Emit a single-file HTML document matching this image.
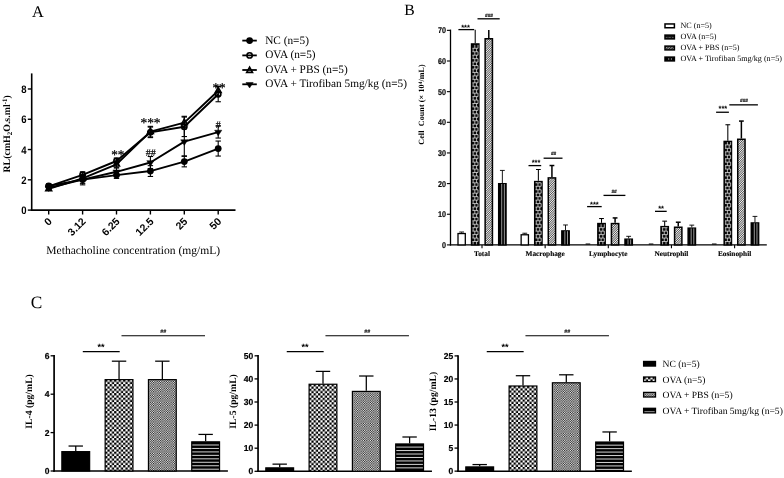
<!DOCTYPE html>
<html lang="en">
<head>
<meta charset="utf-8">
<title>Figure</title>
<style>
html,body{margin:0;padding:0;background:#fff;}
body{width:784px;height:478px;overflow:hidden;}
svg{display:block;}
text{fill:#000;text-rendering:geometricPrecision;}
</style>
</head>
<body>
<svg width="784" height="478" viewBox="0 0 784 478">
<rect width="784" height="478" fill="#fff"/>
<defs>
<pattern id="brick" width="3.45" height="7" patternUnits="userSpaceOnUse" x="0.25" y="0">
<rect width="3.45" height="7" fill="#0a0a0a"/>
<rect x="0" y="0" width="3.45" height="1" fill="#d4d4d4"/>
<rect x="0" y="3.5" width="3.45" height="0.9" fill="#d4d4d4"/>
<rect x="0.2" y="1" width="0.85" height="2.5" fill="#cfcfcf"/>
<rect x="1.95" y="4.4" width="0.85" height="2.6" fill="#cfcfcf"/>
</pattern>
<pattern id="brickL" width="3.5" height="3" patternUnits="userSpaceOnUse">
<rect width="3.5" height="3" fill="#111"/>
<rect x="0" y="1.1" width="2.4" height="0.7" fill="#777"/>
</pattern>
<pattern id="diag" width="1.6" height="1.6" patternUnits="userSpaceOnUse" patternTransform="rotate(-45)">
<rect width="1.6" height="1.6" fill="#f6f6f6"/>
<rect width="1.6" height="0.72" fill="#3c3c3c"/>
</pattern>
<pattern id="diagL" width="1.9" height="1.9" patternUnits="userSpaceOnUse" patternTransform="rotate(-45)">
<rect width="1.9" height="1.9" fill="#999"/>
<rect width="1.9" height="0.95" fill="#222"/>
</pattern>
<pattern id="check" width="4" height="4" patternUnits="userSpaceOnUse" x="1" y="3">
<rect width="4" height="4" fill="#fff"/>
<rect x="0" y="0" width="2" height="2" fill="#000"/>
<rect x="2" y="2" width="2" height="2" fill="#000"/>
</pattern>
<pattern id="check2" width="2" height="2" patternUnits="userSpaceOnUse">
<rect width="2" height="2" fill="#c8c8c8"/>
<rect x="0" y="0" width="1" height="1" fill="#484848"/>
<rect x="1" y="1" width="1" height="1" fill="#484848"/>
</pattern>
<pattern id="hstripe" width="4" height="3.46" patternUnits="userSpaceOnUse" y="1.82">
<rect width="4" height="3.46" fill="#000"/>
<rect x="0" y="0" width="4" height="1.0" fill="#e6e6e6"/>
</pattern>
</defs>
<text x="31.90" y="17.25" font-family="'Liberation Serif', serif" font-size="16.3" font-weight="normal" text-anchor="start" >A</text>
<text x="404.20" y="15.10" font-family="'Liberation Serif', serif" font-size="15.7" font-weight="normal" text-anchor="start" >B</text>
<text x="30.70" y="308.40" font-family="'Liberation Serif', serif" font-size="17.3" font-weight="normal" text-anchor="start" >C</text>
<line x1="31.70" y1="73.40" x2="31.70" y2="210.90" stroke="#000" stroke-width="1.6" />
<line x1="30.90" y1="210.10" x2="235.50" y2="210.10" stroke="#000" stroke-width="1.6" />
<line x1="27.80" y1="210.10" x2="31.70" y2="210.10" stroke="#000" stroke-width="1.4" />
<text transform="translate(26.60,214.20) scale(0.875,1)" font-family="'Liberation Sans', sans-serif" font-size="10.9" font-weight="bold" text-anchor="end" >0</text>
<line x1="27.80" y1="179.82" x2="31.70" y2="179.82" stroke="#000" stroke-width="1.4" />
<text transform="translate(26.60,183.92) scale(0.875,1)" font-family="'Liberation Sans', sans-serif" font-size="10.9" font-weight="bold" text-anchor="end" >2</text>
<line x1="27.80" y1="149.54" x2="31.70" y2="149.54" stroke="#000" stroke-width="1.4" />
<text transform="translate(26.60,153.64) scale(0.875,1)" font-family="'Liberation Sans', sans-serif" font-size="10.9" font-weight="bold" text-anchor="end" >4</text>
<line x1="27.80" y1="119.26" x2="31.70" y2="119.26" stroke="#000" stroke-width="1.4" />
<text transform="translate(26.60,123.36) scale(0.875,1)" font-family="'Liberation Sans', sans-serif" font-size="10.9" font-weight="bold" text-anchor="end" >6</text>
<line x1="27.80" y1="88.98" x2="31.70" y2="88.98" stroke="#000" stroke-width="1.4" />
<text transform="translate(26.60,93.08) scale(0.875,1)" font-family="'Liberation Sans', sans-serif" font-size="10.9" font-weight="bold" text-anchor="end" >8</text>
<line x1="48.70" y1="210.10" x2="48.70" y2="214.50" stroke="#000" stroke-width="1.4" />
<text transform="translate(52.60,222.00) rotate(-45)" font-family="'Liberation Sans', sans-serif" font-size="10.5" font-weight="bold" text-anchor="end">0</text>
<line x1="82.60" y1="210.10" x2="82.60" y2="214.50" stroke="#000" stroke-width="1.4" />
<text transform="translate(86.50,222.00) rotate(-45)" font-family="'Liberation Sans', sans-serif" font-size="10.5" font-weight="bold" text-anchor="end">3.12</text>
<line x1="116.50" y1="210.10" x2="116.50" y2="214.50" stroke="#000" stroke-width="1.4" />
<text transform="translate(120.40,222.00) rotate(-45)" font-family="'Liberation Sans', sans-serif" font-size="10.5" font-weight="bold" text-anchor="end">6.25</text>
<line x1="150.40" y1="210.10" x2="150.40" y2="214.50" stroke="#000" stroke-width="1.4" />
<text transform="translate(154.30,222.00) rotate(-45)" font-family="'Liberation Sans', sans-serif" font-size="10.5" font-weight="bold" text-anchor="end">12.5</text>
<line x1="184.30" y1="210.10" x2="184.30" y2="214.50" stroke="#000" stroke-width="1.4" />
<text transform="translate(188.20,222.00) rotate(-45)" font-family="'Liberation Sans', sans-serif" font-size="10.5" font-weight="bold" text-anchor="end">25</text>
<line x1="218.20" y1="210.10" x2="218.20" y2="214.50" stroke="#000" stroke-width="1.4" />
<text transform="translate(222.10,222.00) rotate(-45)" font-family="'Liberation Sans', sans-serif" font-size="10.5" font-weight="bold" text-anchor="end">50</text>
<text x="133.20" y="253.70" font-family="'Liberation Serif', serif" font-size="11.56" font-weight="normal" text-anchor="middle" >Methacholine concentration (mg/mL)</text>
<text transform="translate(10.3,133.9) rotate(-90)" font-family="'Liberation Serif', serif" font-size="9.9" font-weight="bold" text-anchor="middle">RL(cmH<tspan font-size="6.9" dy="2.1">2</tspan><tspan dy="-2.1">O.s.ml</tspan><tspan font-size="6.9" dy="-3.7">-1</tspan><tspan dy="3.7">)</tspan></text>
<line x1="48.70" y1="184.10" x2="48.70" y2="187.70" stroke="#000" stroke-width="1.1" />
<line x1="46.00" y1="184.10" x2="51.40" y2="184.10" stroke="#000" stroke-width="1.1" />
<line x1="46.00" y1="187.70" x2="51.40" y2="187.70" stroke="#000" stroke-width="1.1" />
<line x1="82.60" y1="174.35" x2="82.60" y2="184.85" stroke="#000" stroke-width="1.1" />
<line x1="79.90" y1="174.35" x2="85.30" y2="174.35" stroke="#000" stroke-width="1.1" />
<line x1="79.90" y1="184.85" x2="85.30" y2="184.85" stroke="#000" stroke-width="1.1" />
<line x1="116.50" y1="171.80" x2="116.50" y2="178.40" stroke="#000" stroke-width="1.1" />
<line x1="113.80" y1="171.80" x2="119.20" y2="171.80" stroke="#000" stroke-width="1.1" />
<line x1="113.80" y1="178.40" x2="119.20" y2="178.40" stroke="#000" stroke-width="1.1" />
<line x1="150.40" y1="165.65" x2="150.40" y2="176.45" stroke="#000" stroke-width="1.1" />
<line x1="147.70" y1="165.65" x2="153.10" y2="165.65" stroke="#000" stroke-width="1.1" />
<line x1="147.70" y1="176.45" x2="153.10" y2="176.45" stroke="#000" stroke-width="1.1" />
<line x1="184.30" y1="156.35" x2="184.30" y2="166.85" stroke="#000" stroke-width="1.1" />
<line x1="181.60" y1="156.35" x2="187.00" y2="156.35" stroke="#000" stroke-width="1.1" />
<line x1="181.60" y1="166.85" x2="187.00" y2="166.85" stroke="#000" stroke-width="1.1" />
<line x1="218.20" y1="141.05" x2="218.20" y2="156.05" stroke="#000" stroke-width="1.1" />
<line x1="215.50" y1="141.05" x2="220.90" y2="141.05" stroke="#000" stroke-width="1.1" />
<line x1="215.50" y1="156.05" x2="220.90" y2="156.05" stroke="#000" stroke-width="1.1" />
<polyline points="48.70,185.90 82.60,179.60 116.50,175.10 150.40,171.05 184.30,161.60 218.20,148.55" fill="none" stroke="#000" stroke-width="1.9" stroke-linejoin="round"/>
<circle cx="48.70" cy="185.90" r="3.40" fill="#000"/>
<circle cx="82.60" cy="179.60" r="3.40" fill="#000"/>
<circle cx="116.50" cy="175.10" r="3.40" fill="#000"/>
<circle cx="150.40" cy="171.05" r="3.40" fill="#000"/>
<circle cx="184.30" cy="161.60" r="3.40" fill="#000"/>
<circle cx="218.20" cy="148.55" r="3.40" fill="#000"/>
<line x1="48.70" y1="184.85" x2="48.70" y2="187.85" stroke="#000" stroke-width="1.1" />
<line x1="46.00" y1="184.85" x2="51.40" y2="184.85" stroke="#000" stroke-width="1.1" />
<line x1="46.00" y1="187.85" x2="51.40" y2="187.85" stroke="#000" stroke-width="1.1" />
<line x1="82.60" y1="171.80" x2="82.60" y2="177.80" stroke="#000" stroke-width="1.1" />
<line x1="79.90" y1="171.80" x2="85.30" y2="171.80" stroke="#000" stroke-width="1.1" />
<line x1="79.90" y1="177.80" x2="85.30" y2="177.80" stroke="#000" stroke-width="1.1" />
<line x1="116.50" y1="158.00" x2="116.50" y2="164.00" stroke="#000" stroke-width="1.1" />
<line x1="113.80" y1="158.00" x2="119.20" y2="158.00" stroke="#000" stroke-width="1.1" />
<line x1="113.80" y1="164.00" x2="119.20" y2="164.00" stroke="#000" stroke-width="1.1" />
<line x1="150.40" y1="127.10" x2="150.40" y2="137.60" stroke="#000" stroke-width="1.1" />
<line x1="147.70" y1="127.10" x2="153.10" y2="127.10" stroke="#000" stroke-width="1.1" />
<line x1="147.70" y1="137.60" x2="153.10" y2="137.60" stroke="#000" stroke-width="1.1" />
<line x1="184.30" y1="117.05" x2="184.30" y2="136.55" stroke="#000" stroke-width="1.1" />
<line x1="181.60" y1="117.05" x2="187.00" y2="117.05" stroke="#000" stroke-width="1.1" />
<line x1="181.60" y1="136.55" x2="187.00" y2="136.55" stroke="#000" stroke-width="1.1" />
<line x1="218.20" y1="86.75" x2="218.20" y2="101.75" stroke="#000" stroke-width="1.1" />
<line x1="215.50" y1="86.75" x2="220.90" y2="86.75" stroke="#000" stroke-width="1.1" />
<line x1="215.50" y1="101.75" x2="220.90" y2="101.75" stroke="#000" stroke-width="1.1" />
<polyline points="48.70,186.35 82.60,174.80 116.50,161.00 150.40,132.35 184.30,126.80 218.20,94.25" fill="none" stroke="#000" stroke-width="1.9" stroke-linejoin="round"/>
<circle cx="48.70" cy="186.35" r="2.65" fill="none" stroke="#000" stroke-width="1.6"/>
<circle cx="82.60" cy="174.80" r="2.65" fill="none" stroke="#000" stroke-width="1.6"/>
<circle cx="116.50" cy="161.00" r="2.65" fill="none" stroke="#000" stroke-width="1.6"/>
<circle cx="150.40" cy="132.35" r="2.65" fill="none" stroke="#000" stroke-width="1.6"/>
<circle cx="184.30" cy="126.80" r="2.65" fill="none" stroke="#000" stroke-width="1.6"/>
<circle cx="218.20" cy="94.25" r="2.65" fill="none" stroke="#000" stroke-width="1.6"/>
<line x1="48.70" y1="187.40" x2="48.70" y2="190.40" stroke="#000" stroke-width="1.1" />
<line x1="46.00" y1="187.40" x2="51.40" y2="187.40" stroke="#000" stroke-width="1.1" />
<line x1="46.00" y1="190.40" x2="51.40" y2="190.40" stroke="#000" stroke-width="1.1" />
<line x1="82.60" y1="175.40" x2="82.60" y2="181.40" stroke="#000" stroke-width="1.1" />
<line x1="79.90" y1="175.40" x2="85.30" y2="175.40" stroke="#000" stroke-width="1.1" />
<line x1="79.90" y1="181.40" x2="85.30" y2="181.40" stroke="#000" stroke-width="1.1" />
<line x1="116.50" y1="161.30" x2="116.50" y2="167.30" stroke="#000" stroke-width="1.1" />
<line x1="113.80" y1="161.30" x2="119.20" y2="161.30" stroke="#000" stroke-width="1.1" />
<line x1="113.80" y1="167.30" x2="119.20" y2="167.30" stroke="#000" stroke-width="1.1" />
<line x1="150.40" y1="126.35" x2="150.40" y2="136.85" stroke="#000" stroke-width="1.1" />
<line x1="147.70" y1="126.35" x2="153.10" y2="126.35" stroke="#000" stroke-width="1.1" />
<line x1="147.70" y1="136.85" x2="153.10" y2="136.85" stroke="#000" stroke-width="1.1" />
<line x1="184.30" y1="116.30" x2="184.30" y2="128.90" stroke="#000" stroke-width="1.1" />
<line x1="181.60" y1="116.30" x2="187.00" y2="116.30" stroke="#000" stroke-width="1.1" />
<line x1="181.60" y1="128.90" x2="187.00" y2="128.90" stroke="#000" stroke-width="1.1" />
<line x1="218.20" y1="86.30" x2="218.20" y2="95.30" stroke="#000" stroke-width="1.1" />
<line x1="215.50" y1="86.30" x2="220.90" y2="86.30" stroke="#000" stroke-width="1.1" />
<line x1="215.50" y1="95.30" x2="220.90" y2="95.30" stroke="#000" stroke-width="1.1" />
<polyline points="48.70,188.90 82.60,178.40 116.50,164.30 150.40,131.60 184.30,122.60 218.20,90.80" fill="none" stroke="#000" stroke-width="1.9" stroke-linejoin="round"/>
<polygon points="48.70,185.43 51.60,190.63 45.80,190.63" fill="none" stroke="#000" stroke-width="1.6" stroke-linejoin="miter"/>
<polygon points="82.60,174.93 85.50,180.13 79.70,180.13" fill="none" stroke="#000" stroke-width="1.6" stroke-linejoin="miter"/>
<polygon points="116.50,160.83 119.40,166.03 113.60,166.03" fill="none" stroke="#000" stroke-width="1.6" stroke-linejoin="miter"/>
<polygon points="150.40,128.13 153.30,133.33 147.50,133.33" fill="none" stroke="#000" stroke-width="1.6" stroke-linejoin="miter"/>
<polygon points="184.30,119.13 187.20,124.33 181.40,124.33" fill="none" stroke="#000" stroke-width="1.6" stroke-linejoin="miter"/>
<polygon points="218.20,87.33 221.10,92.53 215.30,92.53" fill="none" stroke="#000" stroke-width="1.6" stroke-linejoin="miter"/>
<line x1="48.70" y1="186.35" x2="48.70" y2="189.35" stroke="#000" stroke-width="1.1" />
<line x1="46.00" y1="186.35" x2="51.40" y2="186.35" stroke="#000" stroke-width="1.1" />
<line x1="46.00" y1="189.35" x2="51.40" y2="189.35" stroke="#000" stroke-width="1.1" />
<line x1="82.60" y1="175.85" x2="82.60" y2="183.35" stroke="#000" stroke-width="1.1" />
<line x1="79.90" y1="175.85" x2="85.30" y2="175.85" stroke="#000" stroke-width="1.1" />
<line x1="79.90" y1="183.35" x2="85.30" y2="183.35" stroke="#000" stroke-width="1.1" />
<line x1="116.50" y1="168.05" x2="116.50" y2="175.55" stroke="#000" stroke-width="1.1" />
<line x1="113.80" y1="168.05" x2="119.20" y2="168.05" stroke="#000" stroke-width="1.1" />
<line x1="113.80" y1="175.55" x2="119.20" y2="175.55" stroke="#000" stroke-width="1.1" />
<line x1="150.40" y1="156.50" x2="150.40" y2="168.50" stroke="#000" stroke-width="1.1" />
<line x1="147.70" y1="156.50" x2="153.10" y2="156.50" stroke="#000" stroke-width="1.1" />
<line x1="147.70" y1="168.50" x2="153.10" y2="168.50" stroke="#000" stroke-width="1.1" />
<line x1="184.30" y1="127.40" x2="184.30" y2="155.90" stroke="#000" stroke-width="1.1" />
<line x1="181.60" y1="127.40" x2="187.00" y2="127.40" stroke="#000" stroke-width="1.1" />
<line x1="181.60" y1="155.90" x2="187.00" y2="155.90" stroke="#000" stroke-width="1.1" />
<line x1="218.20" y1="126.05" x2="218.20" y2="138.05" stroke="#000" stroke-width="1.1" />
<line x1="215.50" y1="126.05" x2="220.90" y2="126.05" stroke="#000" stroke-width="1.1" />
<line x1="215.50" y1="138.05" x2="220.90" y2="138.05" stroke="#000" stroke-width="1.1" />
<polyline points="48.70,187.85 82.60,179.60 116.50,171.80 150.40,162.50 184.30,141.65 218.20,132.05" fill="none" stroke="#000" stroke-width="1.9" stroke-linejoin="round"/>
<polygon points="48.70,191.52 52.30,186.02 45.10,186.02" fill="#000" stroke="#000" stroke-width="0.5" stroke-linejoin="miter"/>
<polygon points="82.60,183.27 86.20,177.77 79.00,177.77" fill="#000" stroke="#000" stroke-width="0.5" stroke-linejoin="miter"/>
<polygon points="116.50,175.47 120.10,169.97 112.90,169.97" fill="#000" stroke="#000" stroke-width="0.5" stroke-linejoin="miter"/>
<polygon points="150.40,166.17 154.00,160.67 146.80,160.67" fill="#000" stroke="#000" stroke-width="0.5" stroke-linejoin="miter"/>
<polygon points="184.30,145.32 187.90,139.82 180.70,139.82" fill="#000" stroke="#000" stroke-width="0.5" stroke-linejoin="miter"/>
<polygon points="218.20,135.72 221.80,130.22 214.60,130.22" fill="#000" stroke="#000" stroke-width="0.5" stroke-linejoin="miter"/>
<text x="117.85" y="159.04" font-family="'Liberation Serif', serif" font-size="13.2" font-weight="normal" text-anchor="middle" stroke="#000" stroke-width="0.25">**</text>
<text x="150.50" y="127.13" font-family="'Liberation Serif', serif" font-size="13.4" font-weight="normal" text-anchor="middle" stroke="#000" stroke-width="0.25">***</text>
<text x="219.00" y="91.84" font-family="'Liberation Serif', serif" font-size="13.2" font-weight="normal" text-anchor="middle" stroke="#000" stroke-width="0.25">**</text>
<text x="150.75" y="156.25" font-family="'Liberation Serif', serif" font-size="10" font-weight="normal" text-anchor="middle" stroke="#000" stroke-width="0.2">##</text>
<text x="218.30" y="127.65" font-family="'Liberation Serif', serif" font-size="10" font-weight="normal" text-anchor="middle" stroke="#000" stroke-width="0.2">#</text>
<line x1="242.30" y1="40.60" x2="256.80" y2="40.60" stroke="#000" stroke-width="1.7999999999999998" />
<circle cx="249.60" cy="40.60" r="3.40" fill="#000"/>
<text x="265.20" y="43.50" font-family="'Liberation Serif', serif" font-size="11.3" font-weight="normal" text-anchor="start" >NC (n=5)</text>
<line x1="242.30" y1="55.40" x2="256.80" y2="55.40" stroke="#000" stroke-width="1.7999999999999998" />
<circle cx="249.60" cy="55.40" r="2.65" fill="none" stroke="#000" stroke-width="1.6"/>
<text x="265.20" y="58.30" font-family="'Liberation Serif', serif" font-size="11.3" font-weight="normal" text-anchor="start" >OVA (n=5)</text>
<line x1="242.30" y1="70.00" x2="256.80" y2="70.00" stroke="#000" stroke-width="1.7999999999999998" />
<polygon points="249.60,67.13 252.50,72.33 246.70,72.33" fill="none" stroke="#000" stroke-width="1.6" stroke-linejoin="miter"/>
<text x="265.20" y="72.90" font-family="'Liberation Serif', serif" font-size="11.3" font-weight="normal" text-anchor="start" >OVA + PBS (n=5)</text>
<line x1="242.30" y1="84.30" x2="256.80" y2="84.30" stroke="#000" stroke-width="1.7999999999999998" />
<polygon points="249.60,87.97 253.20,82.47 246.00,82.47" fill="#000" stroke="#000" stroke-width="0.5" stroke-linejoin="miter"/>
<text x="265.20" y="87.20" font-family="'Liberation Serif', serif" font-size="11.3" font-weight="normal" text-anchor="start" >OVA + Tirofiban 5mg/kg (n=5)</text>
<line x1="450.50" y1="29.60" x2="450.50" y2="245.55" stroke="#000" stroke-width="1.3" />
<line x1="449.85" y1="244.90" x2="766.80" y2="244.90" stroke="#000" stroke-width="1.3" />
<line x1="446.90" y1="244.90" x2="450.50" y2="244.90" stroke="#000" stroke-width="1.1" />
<text transform="translate(446.10,248.00) scale(0.86,1)" font-family="'Liberation Sans', sans-serif" font-size="8.4" font-weight="bold" text-anchor="end" stroke="#000" stroke-width="0.15">0</text>
<line x1="446.90" y1="214.25" x2="450.50" y2="214.25" stroke="#000" stroke-width="1.1" />
<text transform="translate(446.10,217.35) scale(0.86,1)" font-family="'Liberation Sans', sans-serif" font-size="8.4" font-weight="bold" text-anchor="end" stroke="#000" stroke-width="0.15">10</text>
<line x1="446.90" y1="183.60" x2="450.50" y2="183.60" stroke="#000" stroke-width="1.1" />
<text transform="translate(446.10,186.70) scale(0.86,1)" font-family="'Liberation Sans', sans-serif" font-size="8.4" font-weight="bold" text-anchor="end" stroke="#000" stroke-width="0.15">20</text>
<line x1="446.90" y1="152.95" x2="450.50" y2="152.95" stroke="#000" stroke-width="1.1" />
<text transform="translate(446.10,156.05) scale(0.86,1)" font-family="'Liberation Sans', sans-serif" font-size="8.4" font-weight="bold" text-anchor="end" stroke="#000" stroke-width="0.15">30</text>
<line x1="446.90" y1="122.30" x2="450.50" y2="122.30" stroke="#000" stroke-width="1.1" />
<text transform="translate(446.10,125.40) scale(0.86,1)" font-family="'Liberation Sans', sans-serif" font-size="8.4" font-weight="bold" text-anchor="end" stroke="#000" stroke-width="0.15">40</text>
<line x1="446.90" y1="91.65" x2="450.50" y2="91.65" stroke="#000" stroke-width="1.1" />
<text transform="translate(446.10,94.75) scale(0.86,1)" font-family="'Liberation Sans', sans-serif" font-size="8.4" font-weight="bold" text-anchor="end" stroke="#000" stroke-width="0.15">50</text>
<line x1="446.90" y1="61.00" x2="450.50" y2="61.00" stroke="#000" stroke-width="1.1" />
<text transform="translate(446.10,64.10) scale(0.86,1)" font-family="'Liberation Sans', sans-serif" font-size="8.4" font-weight="bold" text-anchor="end" stroke="#000" stroke-width="0.15">60</text>
<line x1="446.90" y1="30.35" x2="450.50" y2="30.35" stroke="#000" stroke-width="1.1" />
<text transform="translate(446.10,33.45) scale(0.86,1)" font-family="'Liberation Sans', sans-serif" font-size="8.4" font-weight="bold" text-anchor="end" stroke="#000" stroke-width="0.15">70</text>
<text transform="translate(424.4,104.5) rotate(-90)" font-family="'Liberation Serif', serif" font-size="8" font-weight="bold" text-anchor="middle" textLength="80.5" lengthAdjust="spacing" xml:space="preserve" style="white-space:pre">Cell  Count (× 10<tspan font-size="5.4" dy="-2.8">4</tspan><tspan dy="2.8">/mL)</tspan></text>
<line x1="482.00" y1="244.90" x2="482.00" y2="248.20" stroke="#000" stroke-width="1.1" />
<text x="482.00" y="255.60" font-family="'Liberation Serif', serif" font-size="7.3" font-weight="bold" text-anchor="middle" stroke="#000" stroke-width="0.12">Total</text>
<line x1="461.64" y1="232.00" x2="461.64" y2="232.79" stroke="#000" stroke-width="0.9" />
<line x1="459.25" y1="232.00" x2="464.04" y2="232.00" stroke="#000" stroke-width="0.9" />
<rect x="458.00" y="233.54" width="7.3" height="11.36" fill="#fff" stroke="#000" stroke-width="1.3"/>
<line x1="475.21" y1="29.74" x2="475.21" y2="43.22" stroke="#000" stroke-width="1.05" />
<rect x="471.56" y="43.97" width="7.3" height="200.93" fill="#0a0a0a" stroke="#000" stroke-width="1.5"/>
<path d="M474.81 44.85V48.30M478.02 44.85V48.30M472.42 48.30H478.01M473.12 48.30V51.75M476.56 48.30V51.75M472.42 51.75H478.01M474.81 51.75V55.20M478.02 51.75V55.20M472.42 55.20H478.01M473.12 55.20V58.65M476.56 55.20V58.65M472.42 58.65H478.01M474.81 58.65V62.10M478.02 58.65V62.10M472.42 62.10H478.01M473.12 62.10V65.55M476.56 62.10V65.55M472.42 65.55H478.01M474.81 65.55V69.00M478.02 65.55V69.00M472.42 69.00H478.01M473.12 69.00V72.45M476.56 69.00V72.45M472.42 72.45H478.01M474.81 72.45V75.90M478.02 72.45V75.90M472.42 75.90H478.01M473.12 75.90V79.35M476.56 75.90V79.35M472.42 79.35H478.01M474.81 79.35V82.80M478.02 79.35V82.80M472.42 82.80H478.01M473.12 82.80V86.25M476.56 82.80V86.25M472.42 86.25H478.01M474.81 86.25V89.70M478.02 86.25V89.70M472.42 89.70H478.01M473.12 89.70V93.15M476.56 89.70V93.15M472.42 93.15H478.01M474.81 93.15V96.60M478.02 93.15V96.60M472.42 96.60H478.01M473.12 96.60V100.05M476.56 96.60V100.05M472.42 100.05H478.01M474.81 100.05V103.50M478.02 100.05V103.50M472.42 103.50H478.01M473.12 103.50V106.95M476.56 103.50V106.95M472.42 106.95H478.01M474.81 106.95V110.40M478.02 106.95V110.40M472.42 110.40H478.01M473.12 110.40V113.85M476.56 110.40V113.85M472.42 113.85H478.01M474.81 113.85V117.30M478.02 113.85V117.30M472.42 117.30H478.01M473.12 117.30V120.75M476.56 117.30V120.75M472.42 120.75H478.01M474.81 120.75V124.20M478.02 120.75V124.20M472.42 124.20H478.01M473.12 124.20V127.65M476.56 124.20V127.65M472.42 127.65H478.01M474.81 127.65V131.10M478.02 127.65V131.10M472.42 131.10H478.01M473.12 131.10V134.55M476.56 131.10V134.55M472.42 134.55H478.01M474.81 134.55V138.00M478.02 134.55V138.00M472.42 138.00H478.01M473.12 138.00V141.45M476.56 138.00V141.45M472.42 141.45H478.01M474.81 141.45V144.90M478.02 141.45V144.90M472.42 144.90H478.01M473.12 144.90V148.35M476.56 144.90V148.35M472.42 148.35H478.01M474.81 148.35V151.80M478.02 148.35V151.80M472.42 151.80H478.01M473.12 151.80V155.25M476.56 151.80V155.25M472.42 155.25H478.01M474.81 155.25V158.70M478.02 155.25V158.70M472.42 158.70H478.01M473.12 158.70V162.15M476.56 158.70V162.15M472.42 162.15H478.01M474.81 162.15V165.60M478.02 162.15V165.60M472.42 165.60H478.01M473.12 165.60V169.05M476.56 165.60V169.05M472.42 169.05H478.01M474.81 169.05V172.50M478.02 169.05V172.50M472.42 172.50H478.01M473.12 172.50V175.95M476.56 172.50V175.95M472.42 175.95H478.01M474.81 175.95V179.40M478.02 175.95V179.40M472.42 179.40H478.01M473.12 179.40V182.85M476.56 179.40V182.85M472.42 182.85H478.01M474.81 182.85V186.30M478.02 182.85V186.30M472.42 186.30H478.01M473.12 186.30V189.75M476.56 186.30V189.75M472.42 189.75H478.01M474.81 189.75V193.20M478.02 189.75V193.20M472.42 193.20H478.01M473.12 193.20V196.65M476.56 193.20V196.65M472.42 196.65H478.01M474.81 196.65V200.10M478.02 196.65V200.10M472.42 200.10H478.01M473.12 200.10V203.55M476.56 200.10V203.55M472.42 203.55H478.01M474.81 203.55V207.00M478.02 203.55V207.00M472.42 207.00H478.01M473.12 207.00V210.45M476.56 207.00V210.45M472.42 210.45H478.01M474.81 210.45V213.90M478.02 210.45V213.90M472.42 213.90H478.01M473.12 213.90V217.35M476.56 213.90V217.35M472.42 217.35H478.01M474.81 217.35V220.80M478.02 217.35V220.80M472.42 220.80H478.01M473.12 220.80V224.25M476.56 220.80V224.25M472.42 224.25H478.01M474.81 224.25V227.70M478.02 224.25V227.70M472.42 227.70H478.01M473.12 227.70V231.15M476.56 227.70V231.15M472.42 231.15H478.01M474.81 231.15V234.60M478.02 231.15V234.60M472.42 234.60H478.01M473.12 234.60V238.05M476.56 234.60V238.05M472.42 238.05H478.01M474.81 238.05V241.50M478.02 238.05V241.50M472.42 241.50H478.01M473.12 241.50V244.30M476.56 241.50V244.30" fill="none" stroke="#fff" stroke-width="0.65"/>
<line x1="488.79" y1="30.04" x2="488.79" y2="38.01" stroke="#000" stroke-width="1.5" />
<rect x="485.14" y="38.76" width="7.3" height="206.14" fill="url(#diag)" stroke="#000" stroke-width="1.5"/>
<line x1="502.36" y1="170.42" x2="502.36" y2="182.99" stroke="#000" stroke-width="0.9" />
<line x1="499.96" y1="170.42" x2="504.75" y2="170.42" stroke="#000" stroke-width="0.9" />
<rect x="498.71" y="183.74" width="7.3" height="61.16" fill="#000" stroke="#000" stroke-width="1.5"/>
<line x1="501.71" y1="183.99" x2="501.71" y2="244.30" stroke="#d8d8d8" stroke-width="0.7"/>
<line x1="504.36" y1="183.99" x2="504.36" y2="244.30" stroke="#d8d8d8" stroke-width="0.7"/>
<line x1="545.15" y1="244.90" x2="545.15" y2="248.20" stroke="#000" stroke-width="1.1" />
<text x="545.15" y="255.60" font-family="'Liberation Serif', serif" font-size="7.3" font-weight="bold" text-anchor="middle" stroke="#000" stroke-width="0.12">Macrophage</text>
<line x1="524.79" y1="233.22" x2="524.79" y2="234.02" stroke="#000" stroke-width="0.9" />
<line x1="522.39" y1="233.22" x2="527.19" y2="233.22" stroke="#000" stroke-width="0.9" />
<rect x="521.14" y="234.77" width="7.3" height="10.13" fill="#fff" stroke="#000" stroke-width="1.3"/>
<line x1="538.37" y1="169.50" x2="538.37" y2="180.84" stroke="#000" stroke-width="1.05" />
<line x1="535.97" y1="169.50" x2="540.76" y2="169.50" stroke="#000" stroke-width="1.05" />
<rect x="534.72" y="181.59" width="7.3" height="63.31" fill="#0a0a0a" stroke="#000" stroke-width="1.5"/>
<path d="M536.27 182.19V182.85M539.72 182.19V182.85M535.57 182.85H541.16M537.97 182.85V186.30M541.17 182.85V186.30M535.57 186.30H541.16M536.27 186.30V189.75M539.72 186.30V189.75M535.57 189.75H541.16M537.97 189.75V193.20M541.17 189.75V193.20M535.57 193.20H541.16M536.27 193.20V196.65M539.72 193.20V196.65M535.57 196.65H541.16M537.97 196.65V200.10M541.17 196.65V200.10M535.57 200.10H541.16M536.27 200.10V203.55M539.72 200.10V203.55M535.57 203.55H541.16M537.97 203.55V207.00M541.17 203.55V207.00M535.57 207.00H541.16M536.27 207.00V210.45M539.72 207.00V210.45M535.57 210.45H541.16M537.97 210.45V213.90M541.17 210.45V213.90M535.57 213.90H541.16M536.27 213.90V217.35M539.72 213.90V217.35M535.57 217.35H541.16M537.97 217.35V220.80M541.17 217.35V220.80M535.57 220.80H541.16M536.27 220.80V224.25M539.72 220.80V224.25M535.57 224.25H541.16M537.97 224.25V227.70M541.17 224.25V227.70M535.57 227.70H541.16M536.27 227.70V231.15M539.72 227.70V231.15M535.57 231.15H541.16M537.97 231.15V234.60M541.17 231.15V234.60M535.57 234.60H541.16M536.27 234.60V238.05M539.72 234.60V238.05M535.57 238.05H541.16M537.97 238.05V241.50M541.17 238.05V241.50M535.57 241.50H541.16M536.27 241.50V244.30M539.72 241.50V244.30" fill="none" stroke="#fff" stroke-width="0.65"/>
<line x1="551.93" y1="165.52" x2="551.93" y2="177.16" stroke="#000" stroke-width="1.5" />
<line x1="549.53" y1="165.52" x2="554.33" y2="165.52" stroke="#000" stroke-width="1.5" />
<rect x="548.28" y="177.91" width="7.3" height="66.99" fill="url(#diag)" stroke="#000" stroke-width="1.5"/>
<line x1="565.50" y1="224.98" x2="565.50" y2="230.19" stroke="#000" stroke-width="0.9" />
<line x1="563.11" y1="224.98" x2="567.90" y2="224.98" stroke="#000" stroke-width="0.9" />
<rect x="561.86" y="230.94" width="7.3" height="13.96" fill="#000" stroke="#000" stroke-width="1.5"/>
<line x1="564.86" y1="231.19" x2="564.86" y2="244.30" stroke="#d8d8d8" stroke-width="0.7"/>
<line x1="567.50" y1="231.19" x2="567.50" y2="244.30" stroke="#d8d8d8" stroke-width="0.7"/>
<line x1="608.30" y1="244.90" x2="608.30" y2="248.20" stroke="#000" stroke-width="1.1" />
<text x="608.30" y="255.60" font-family="'Liberation Serif', serif" font-size="7.3" font-weight="bold" text-anchor="middle" stroke="#000" stroke-width="0.12">Lymphocyte</text>
<line x1="585.64" y1="244.00" x2="590.24" y2="244.00" stroke="#000" stroke-width="1.0" />
<line x1="601.51" y1="218.54" x2="601.51" y2="222.83" stroke="#000" stroke-width="1.05" />
<line x1="599.12" y1="218.54" x2="603.91" y2="218.54" stroke="#000" stroke-width="1.05" />
<rect x="597.87" y="223.58" width="7.3" height="21.32" fill="#0a0a0a" stroke="#000" stroke-width="1.5"/>
<path d="M601.12 224.25V227.70M604.32 224.25V227.70M598.72 227.70H604.31M599.42 227.70V231.15M602.87 227.70V231.15M598.72 231.15H604.31M601.12 231.15V234.60M604.32 231.15V234.60M598.72 234.60H604.31M599.42 234.60V238.05M602.87 234.60V238.05M598.72 238.05H604.31M601.12 238.05V241.50M604.32 238.05V241.50M598.72 241.50H604.31M599.42 241.50V244.30M602.87 241.50V244.30" fill="none" stroke="#fff" stroke-width="0.65"/>
<line x1="615.08" y1="217.93" x2="615.08" y2="222.83" stroke="#000" stroke-width="1.5" />
<line x1="612.68" y1="217.93" x2="617.48" y2="217.93" stroke="#000" stroke-width="1.5" />
<rect x="611.43" y="223.58" width="7.3" height="21.32" fill="url(#diag)" stroke="#000" stroke-width="1.5"/>
<line x1="628.65" y1="236.32" x2="628.65" y2="238.46" stroke="#000" stroke-width="0.9" />
<line x1="626.25" y1="236.32" x2="631.05" y2="236.32" stroke="#000" stroke-width="0.9" />
<rect x="625.00" y="239.21" width="7.3" height="5.69" fill="#000" stroke="#000" stroke-width="1.5"/>
<line x1="628.00" y1="239.46" x2="628.00" y2="244.30" stroke="#d8d8d8" stroke-width="0.7"/>
<line x1="630.65" y1="239.46" x2="630.65" y2="244.30" stroke="#d8d8d8" stroke-width="0.7"/>
<line x1="671.45" y1="244.90" x2="671.45" y2="248.20" stroke="#000" stroke-width="1.1" />
<text x="671.45" y="255.60" font-family="'Liberation Serif', serif" font-size="7.3" font-weight="bold" text-anchor="middle" stroke="#000" stroke-width="0.12">Neutrophil</text>
<line x1="648.80" y1="244.00" x2="653.39" y2="244.00" stroke="#000" stroke-width="1.0" />
<line x1="664.67" y1="221.15" x2="664.67" y2="225.90" stroke="#000" stroke-width="1.05" />
<line x1="662.27" y1="221.15" x2="667.07" y2="221.15" stroke="#000" stroke-width="1.05" />
<rect x="661.02" y="226.65" width="7.3" height="18.25" fill="#0a0a0a" stroke="#000" stroke-width="1.5"/>
<path d="M661.87 227.70H667.47M662.57 227.70V231.15M666.02 227.70V231.15M661.87 231.15H667.47M664.27 231.15V234.60M667.47 231.15V234.60M661.87 234.60H667.47M662.57 234.60V238.05M666.02 234.60V238.05M661.87 238.05H667.47M664.27 238.05V241.50M667.47 238.05V241.50M661.87 241.50H667.47M662.57 241.50V244.30M666.02 241.50V244.30" fill="none" stroke="#fff" stroke-width="0.65"/>
<line x1="678.24" y1="222.22" x2="678.24" y2="226.51" stroke="#000" stroke-width="1.5" />
<line x1="675.84" y1="222.22" x2="680.63" y2="222.22" stroke="#000" stroke-width="1.5" />
<rect x="674.59" y="227.26" width="7.3" height="17.64" fill="url(#diag)" stroke="#000" stroke-width="1.5"/>
<line x1="691.81" y1="225.13" x2="691.81" y2="227.43" stroke="#000" stroke-width="0.9" />
<line x1="689.41" y1="225.13" x2="694.21" y2="225.13" stroke="#000" stroke-width="0.9" />
<rect x="688.16" y="228.18" width="7.3" height="16.72" fill="#000" stroke="#000" stroke-width="1.5"/>
<line x1="691.16" y1="228.43" x2="691.16" y2="244.30" stroke="#d8d8d8" stroke-width="0.7"/>
<line x1="693.81" y1="228.43" x2="693.81" y2="244.30" stroke="#d8d8d8" stroke-width="0.7"/>
<line x1="734.60" y1="244.90" x2="734.60" y2="248.20" stroke="#000" stroke-width="1.1" />
<text x="734.60" y="255.60" font-family="'Liberation Serif', serif" font-size="7.3" font-weight="bold" text-anchor="middle" stroke="#000" stroke-width="0.12">Eosinophil</text>
<line x1="711.95" y1="244.00" x2="716.54" y2="244.00" stroke="#000" stroke-width="1.0" />
<line x1="727.82" y1="124.75" x2="727.82" y2="140.69" stroke="#000" stroke-width="1.05" />
<line x1="725.42" y1="124.75" x2="730.22" y2="124.75" stroke="#000" stroke-width="1.05" />
<rect x="724.17" y="141.44" width="7.3" height="103.46" fill="#0a0a0a" stroke="#000" stroke-width="1.5"/>
<path d="M727.42 142.04V144.90M730.62 142.04V144.90M725.02 144.90H730.62M725.72 144.90V148.35M729.17 144.90V148.35M725.02 148.35H730.62M727.42 148.35V151.80M730.62 148.35V151.80M725.02 151.80H730.62M725.72 151.80V155.25M729.17 151.80V155.25M725.02 155.25H730.62M727.42 155.25V158.70M730.62 155.25V158.70M725.02 158.70H730.62M725.72 158.70V162.15M729.17 158.70V162.15M725.02 162.15H730.62M727.42 162.15V165.60M730.62 162.15V165.60M725.02 165.60H730.62M725.72 165.60V169.05M729.17 165.60V169.05M725.02 169.05H730.62M727.42 169.05V172.50M730.62 169.05V172.50M725.02 172.50H730.62M725.72 172.50V175.95M729.17 172.50V175.95M725.02 175.95H730.62M727.42 175.95V179.40M730.62 175.95V179.40M725.02 179.40H730.62M725.72 179.40V182.85M729.17 179.40V182.85M725.02 182.85H730.62M727.42 182.85V186.30M730.62 182.85V186.30M725.02 186.30H730.62M725.72 186.30V189.75M729.17 186.30V189.75M725.02 189.75H730.62M727.42 189.75V193.20M730.62 189.75V193.20M725.02 193.20H730.62M725.72 193.20V196.65M729.17 193.20V196.65M725.02 196.65H730.62M727.42 196.65V200.10M730.62 196.65V200.10M725.02 200.10H730.62M725.72 200.10V203.55M729.17 200.10V203.55M725.02 203.55H730.62M727.42 203.55V207.00M730.62 203.55V207.00M725.02 207.00H730.62M725.72 207.00V210.45M729.17 207.00V210.45M725.02 210.45H730.62M727.42 210.45V213.90M730.62 210.45V213.90M725.02 213.90H730.62M725.72 213.90V217.35M729.17 213.90V217.35M725.02 217.35H730.62M727.42 217.35V220.80M730.62 217.35V220.80M725.02 220.80H730.62M725.72 220.80V224.25M729.17 220.80V224.25M725.02 224.25H730.62M727.42 224.25V227.70M730.62 224.25V227.70M725.02 227.70H730.62M725.72 227.70V231.15M729.17 227.70V231.15M725.02 231.15H730.62M727.42 231.15V234.60M730.62 231.15V234.60M725.02 234.60H730.62M725.72 234.60V238.05M729.17 234.60V238.05M725.02 238.05H730.62M727.42 238.05V241.50M730.62 238.05V241.50M725.02 241.50H730.62M725.72 241.50V244.30M729.17 241.50V244.30" fill="none" stroke="#fff" stroke-width="0.65"/>
<line x1="741.38" y1="121.07" x2="741.38" y2="138.54" stroke="#000" stroke-width="1.5" />
<line x1="738.99" y1="121.07" x2="743.78" y2="121.07" stroke="#000" stroke-width="1.5" />
<rect x="737.74" y="139.29" width="7.3" height="105.61" fill="url(#diag)" stroke="#000" stroke-width="1.5"/>
<line x1="754.96" y1="216.40" x2="754.96" y2="222.22" stroke="#000" stroke-width="0.9" />
<line x1="752.56" y1="216.40" x2="757.36" y2="216.40" stroke="#000" stroke-width="0.9" />
<rect x="751.31" y="222.97" width="7.3" height="21.93" fill="#000" stroke="#000" stroke-width="1.5"/>
<line x1="754.31" y1="223.22" x2="754.31" y2="244.30" stroke="#d8d8d8" stroke-width="0.7"/>
<line x1="756.96" y1="223.22" x2="756.96" y2="244.30" stroke="#d8d8d8" stroke-width="0.7"/>
<line x1="458.40" y1="29.60" x2="474.20" y2="29.60" stroke="#000" stroke-width="1.3" />
<text x="465.60" y="30.06" font-family="'Liberation Sans', sans-serif" font-size="7.5" font-weight="bold" text-anchor="middle" >***</text>
<line x1="477.50" y1="18.80" x2="499.70" y2="18.80" stroke="#000" stroke-width="1.3" />
<text x="489.00" y="16.64" font-family="'Liberation Sans', sans-serif" font-size="4.7" font-weight="bold" text-anchor="middle" font-style="italic" stroke="#000" stroke-width="0.15">###</text>
<line x1="528.50" y1="165.60" x2="541.20" y2="165.60" stroke="#000" stroke-width="1.3" />
<text x="536.10" y="164.76" font-family="'Liberation Sans', sans-serif" font-size="7.5" font-weight="bold" text-anchor="middle" >***</text>
<line x1="543.60" y1="158.20" x2="562.50" y2="158.20" stroke="#000" stroke-width="1.3" />
<text x="553.50" y="155.34" font-family="'Liberation Sans', sans-serif" font-size="4.7" font-weight="bold" text-anchor="middle" font-style="italic" stroke="#000" stroke-width="0.15">##</text>
<line x1="587.10" y1="206.60" x2="601.70" y2="206.60" stroke="#000" stroke-width="1.3" />
<text x="594.40" y="206.96" font-family="'Liberation Sans', sans-serif" font-size="7.5" font-weight="bold" text-anchor="middle" >***</text>
<line x1="603.50" y1="195.40" x2="625.40" y2="195.40" stroke="#000" stroke-width="1.3" />
<text x="614.00" y="192.89" font-family="'Liberation Sans', sans-serif" font-size="4.7" font-weight="bold" text-anchor="middle" font-style="italic" stroke="#000" stroke-width="0.15">##</text>
<line x1="655.00" y1="211.35" x2="666.70" y2="211.35" stroke="#000" stroke-width="1.3" />
<text x="661.10" y="211.16" font-family="'Liberation Sans', sans-serif" font-size="7.5" font-weight="bold" text-anchor="middle" >**</text>
<line x1="716.10" y1="112.25" x2="728.90" y2="112.25" stroke="#000" stroke-width="1.3" />
<text x="722.90" y="111.46" font-family="'Liberation Sans', sans-serif" font-size="7.5" font-weight="bold" text-anchor="middle" >***</text>
<line x1="729.30" y1="104.85" x2="757.90" y2="104.85" stroke="#000" stroke-width="1.3" />
<text x="744.00" y="102.49" font-family="'Liberation Sans', sans-serif" font-size="4.7" font-weight="bold" text-anchor="middle" font-style="italic" stroke="#000" stroke-width="0.15">###</text>
<rect x="665.0" y="23.95" width="9.4" height="3.8" fill="#fff" stroke="#000" stroke-width="1.5"/>
<text x="680.50" y="28.25" font-family="'Liberation Serif', serif" font-size="8.09" font-weight="normal" text-anchor="start" >NC (n=5)</text>
<rect x="665.0" y="35.10" width="9.4" height="3.8" fill="url(#brickL)" stroke="#000" stroke-width="1.5"/>
<text x="680.50" y="39.40" font-family="'Liberation Serif', serif" font-size="8.09" font-weight="normal" text-anchor="start" >OVA (n=5)</text>
<rect x="665.0" y="46.10" width="9.4" height="3.8" fill="url(#diagL)" stroke="#000" stroke-width="1.5"/>
<text x="680.50" y="50.40" font-family="'Liberation Serif', serif" font-size="8.09" font-weight="normal" text-anchor="start" >OVA + PBS (n=5)</text>
<rect x="665.0" y="57.10" width="9.4" height="3.8" fill="#000" stroke="#000" stroke-width="1.5"/>
<rect x="668.3" y="58.40" width="0.9" height="1.2" fill="#ddd"/><rect x="670.9" y="58.40" width="0.9" height="1.2" fill="#ddd"/>
<text x="680.50" y="61.40" font-family="'Liberation Serif', serif" font-size="8.09" font-weight="normal" text-anchor="start" >OVA + Tirofiban 5mg/kg (n=5)</text>
<line x1="54.10" y1="355.05" x2="54.10" y2="471.75" stroke="#000" stroke-width="1.7" />
<line x1="53.25" y1="471.00" x2="227.90" y2="471.00" stroke="#000" stroke-width="1.5" />
<line x1="50.60" y1="471.00" x2="54.10" y2="471.00" stroke="#000" stroke-width="1.3" />
<text transform="translate(49.40,474.10) scale(0.98,1)" font-family="'Liberation Sans', sans-serif" font-size="8.7" font-weight="bold" text-anchor="end" stroke="#000" stroke-width="0.2">0</text>
<line x1="50.60" y1="432.60" x2="54.10" y2="432.60" stroke="#000" stroke-width="1.3" />
<text transform="translate(49.40,435.70) scale(0.98,1)" font-family="'Liberation Sans', sans-serif" font-size="8.7" font-weight="bold" text-anchor="end" stroke="#000" stroke-width="0.2">2</text>
<line x1="50.60" y1="394.20" x2="54.10" y2="394.20" stroke="#000" stroke-width="1.3" />
<text transform="translate(49.40,397.30) scale(0.98,1)" font-family="'Liberation Sans', sans-serif" font-size="8.7" font-weight="bold" text-anchor="end" stroke="#000" stroke-width="0.2">4</text>
<line x1="50.60" y1="355.80" x2="54.10" y2="355.80" stroke="#000" stroke-width="1.3" />
<text transform="translate(49.40,358.90) scale(0.98,1)" font-family="'Liberation Sans', sans-serif" font-size="8.7" font-weight="bold" text-anchor="end" stroke="#000" stroke-width="0.2">6</text>
<text transform="translate(31.60,401.5) rotate(-90)" font-family="'Liberation Serif', serif" font-size="9.7" font-weight="bold" text-anchor="middle">IL-4 (pg/mL)</text>
<line x1="75.75" y1="446.04" x2="75.75" y2="451.03" stroke="#000" stroke-width="1.25" />
<line x1="68.55" y1="446.04" x2="82.95" y2="446.04" stroke="#000" stroke-width="1.25" />
<rect x="61.85" y="451.63" width="27.8" height="19.37" fill="#000" stroke="#000" stroke-width="1.2"/>
<line x1="119.05" y1="361.18" x2="119.05" y2="379.03" stroke="#000" stroke-width="1.25" />
<line x1="111.85" y1="361.18" x2="126.25" y2="361.18" stroke="#000" stroke-width="1.25" />
<defs><pattern id="ck54" x="105.15" y="379.63" width="4.5" height="4.5" patternUnits="userSpaceOnUse"><rect width="4.5" height="4.5" fill="#fff"/><rect width="2.25" height="2.25" fill="#000"/><rect x="2.25" y="2.25" width="2.25" height="2.25" fill="#000"/></pattern></defs>
<rect x="105.15" y="379.63" width="27.8" height="91.37" fill="url(#ck54)" stroke="#000" stroke-width="1.2"/>
<line x1="162.35" y1="361.18" x2="162.35" y2="379.03" stroke="#000" stroke-width="1.25" />
<line x1="155.15" y1="361.18" x2="169.55" y2="361.18" stroke="#000" stroke-width="1.25" />
<defs><pattern id="cf54" x="148.45" y="379.63" width="2.32" height="2.32" patternUnits="userSpaceOnUse"><rect width="2.32" height="2.32" fill="#f0f0f0"/><rect width="1.16" height="1.16" fill="#1c1c1c"/><rect x="1.16" y="1.16" width="1.16" height="1.16" fill="#1c1c1c"/></pattern></defs>
<rect x="148.45" y="379.63" width="27.8" height="91.37" fill="url(#cf54)" stroke="#000" stroke-width="1.2"/>
<line x1="205.65" y1="434.42" x2="205.65" y2="441.24" stroke="#000" stroke-width="1.25" />
<line x1="198.45" y1="434.42" x2="212.85" y2="434.42" stroke="#000" stroke-width="1.25" />
<rect x="191.75" y="441.84" width="27.8" height="29.16" fill="#000" stroke="#000" stroke-width="1.2"/>
<line x1="192.35" y1="444.99" x2="218.95" y2="444.99" stroke="#000" stroke-width="1.0" stroke-opacity="0.9" style="stroke:#eaeaea"/>
<line x1="192.35" y1="448.45" x2="218.95" y2="448.45" stroke="#000" stroke-width="1.0" stroke-opacity="0.9" style="stroke:#eaeaea"/>
<line x1="192.35" y1="451.91" x2="218.95" y2="451.91" stroke="#000" stroke-width="1.0" stroke-opacity="0.9" style="stroke:#eaeaea"/>
<line x1="192.35" y1="455.37" x2="218.95" y2="455.37" stroke="#000" stroke-width="1.0" stroke-opacity="0.9" style="stroke:#eaeaea"/>
<line x1="192.35" y1="458.83" x2="218.95" y2="458.83" stroke="#000" stroke-width="1.0" stroke-opacity="0.9" style="stroke:#eaeaea"/>
<line x1="192.35" y1="462.29" x2="218.95" y2="462.29" stroke="#000" stroke-width="1.0" stroke-opacity="0.9" style="stroke:#eaeaea"/>
<line x1="192.35" y1="465.75" x2="218.95" y2="465.75" stroke="#000" stroke-width="1.0" stroke-opacity="0.9" style="stroke:#eaeaea"/>
<line x1="192.35" y1="469.21" x2="218.95" y2="469.21" stroke="#000" stroke-width="1.0" stroke-opacity="0.9" style="stroke:#eaeaea"/>
<line x1="82.80" y1="351.65" x2="119.70" y2="351.65" stroke="#000" stroke-width="1.15" />
<text x="101.10" y="350.36" font-family="'Liberation Sans', sans-serif" font-size="9.0" font-weight="bold" text-anchor="middle" >**</text>
<line x1="121.50" y1="335.75" x2="205.00" y2="335.75" stroke="#000" stroke-width="1.15" />
<text x="163.20" y="332.51" font-family="'Liberation Sans', sans-serif" font-size="5.2" font-weight="bold" text-anchor="middle" font-style="italic" stroke="#000" stroke-width="0.15">##</text>
<line x1="258.05" y1="355.05" x2="258.05" y2="472.05" stroke="#000" stroke-width="1.7" />
<line x1="257.20" y1="471.30" x2="431.95" y2="471.30" stroke="#000" stroke-width="1.5" />
<line x1="254.55" y1="471.30" x2="258.05" y2="471.30" stroke="#000" stroke-width="1.3" />
<text transform="translate(253.35,474.40) scale(0.98,1)" font-family="'Liberation Sans', sans-serif" font-size="8.7" font-weight="bold" text-anchor="end" stroke="#000" stroke-width="0.2">0</text>
<line x1="254.55" y1="448.20" x2="258.05" y2="448.20" stroke="#000" stroke-width="1.3" />
<text transform="translate(253.35,451.30) scale(0.98,1)" font-family="'Liberation Sans', sans-serif" font-size="8.7" font-weight="bold" text-anchor="end" stroke="#000" stroke-width="0.2">10</text>
<line x1="254.55" y1="425.10" x2="258.05" y2="425.10" stroke="#000" stroke-width="1.3" />
<text transform="translate(253.35,428.20) scale(0.98,1)" font-family="'Liberation Sans', sans-serif" font-size="8.7" font-weight="bold" text-anchor="end" stroke="#000" stroke-width="0.2">20</text>
<line x1="254.55" y1="402.00" x2="258.05" y2="402.00" stroke="#000" stroke-width="1.3" />
<text transform="translate(253.35,405.10) scale(0.98,1)" font-family="'Liberation Sans', sans-serif" font-size="8.7" font-weight="bold" text-anchor="end" stroke="#000" stroke-width="0.2">30</text>
<line x1="254.55" y1="378.90" x2="258.05" y2="378.90" stroke="#000" stroke-width="1.3" />
<text transform="translate(253.35,382.00) scale(0.98,1)" font-family="'Liberation Sans', sans-serif" font-size="8.7" font-weight="bold" text-anchor="end" stroke="#000" stroke-width="0.2">40</text>
<line x1="254.55" y1="355.80" x2="258.05" y2="355.80" stroke="#000" stroke-width="1.3" />
<text transform="translate(253.35,358.90) scale(0.98,1)" font-family="'Liberation Sans', sans-serif" font-size="8.7" font-weight="bold" text-anchor="end" stroke="#000" stroke-width="0.2">50</text>
<text transform="translate(235.55,401.5) rotate(-90)" font-family="'Liberation Serif', serif" font-size="9.7" font-weight="bold" text-anchor="middle">IL-5 (pg/mL)</text>
<line x1="279.70" y1="464.14" x2="279.70" y2="467.26" stroke="#000" stroke-width="1.25" />
<line x1="272.50" y1="464.14" x2="286.90" y2="464.14" stroke="#000" stroke-width="1.25" />
<rect x="265.80" y="467.86" width="27.8" height="3.44" fill="#000" stroke="#000" stroke-width="1.2"/>
<line x1="323.00" y1="371.39" x2="323.00" y2="383.64" stroke="#000" stroke-width="1.25" />
<line x1="315.80" y1="371.39" x2="330.20" y2="371.39" stroke="#000" stroke-width="1.25" />
<defs><pattern id="ck258" x="309.10" y="384.24" width="4.5" height="4.5" patternUnits="userSpaceOnUse"><rect width="4.5" height="4.5" fill="#fff"/><rect width="2.25" height="2.25" fill="#000"/><rect x="2.25" y="2.25" width="2.25" height="2.25" fill="#000"/></pattern></defs>
<rect x="309.10" y="384.24" width="27.8" height="87.06" fill="url(#ck258)" stroke="#000" stroke-width="1.2"/>
<line x1="366.30" y1="376.01" x2="366.30" y2="390.80" stroke="#000" stroke-width="1.25" />
<line x1="359.10" y1="376.01" x2="373.50" y2="376.01" stroke="#000" stroke-width="1.25" />
<defs><pattern id="cf258" x="352.40" y="391.40" width="2.32" height="2.32" patternUnits="userSpaceOnUse"><rect width="2.32" height="2.32" fill="#f0f0f0"/><rect width="1.16" height="1.16" fill="#1c1c1c"/><rect x="1.16" y="1.16" width="1.16" height="1.16" fill="#1c1c1c"/></pattern></defs>
<rect x="352.40" y="391.40" width="27.8" height="79.90" fill="url(#cf258)" stroke="#000" stroke-width="1.2"/>
<line x1="409.60" y1="437.00" x2="409.60" y2="443.35" stroke="#000" stroke-width="1.25" />
<line x1="402.40" y1="437.00" x2="416.80" y2="437.00" stroke="#000" stroke-width="1.25" />
<rect x="395.70" y="443.95" width="27.8" height="27.35" fill="#000" stroke="#000" stroke-width="1.2"/>
<line x1="396.30" y1="447.10" x2="422.90" y2="447.10" stroke="#000" stroke-width="1.0" stroke-opacity="0.9" style="stroke:#eaeaea"/>
<line x1="396.30" y1="450.56" x2="422.90" y2="450.56" stroke="#000" stroke-width="1.0" stroke-opacity="0.9" style="stroke:#eaeaea"/>
<line x1="396.30" y1="454.02" x2="422.90" y2="454.02" stroke="#000" stroke-width="1.0" stroke-opacity="0.9" style="stroke:#eaeaea"/>
<line x1="396.30" y1="457.48" x2="422.90" y2="457.48" stroke="#000" stroke-width="1.0" stroke-opacity="0.9" style="stroke:#eaeaea"/>
<line x1="396.30" y1="460.94" x2="422.90" y2="460.94" stroke="#000" stroke-width="1.0" stroke-opacity="0.9" style="stroke:#eaeaea"/>
<line x1="396.30" y1="464.40" x2="422.90" y2="464.40" stroke="#000" stroke-width="1.0" stroke-opacity="0.9" style="stroke:#eaeaea"/>
<line x1="396.30" y1="467.86" x2="422.90" y2="467.86" stroke="#000" stroke-width="1.0" stroke-opacity="0.9" style="stroke:#eaeaea"/>
<line x1="286.75" y1="351.65" x2="323.65" y2="351.65" stroke="#000" stroke-width="1.15" />
<text x="305.05" y="350.36" font-family="'Liberation Sans', sans-serif" font-size="9.0" font-weight="bold" text-anchor="middle" >**</text>
<line x1="325.45" y1="335.75" x2="408.95" y2="335.75" stroke="#000" stroke-width="1.15" />
<text x="367.15" y="332.51" font-family="'Liberation Sans', sans-serif" font-size="5.2" font-weight="bold" text-anchor="middle" font-style="italic" stroke="#000" stroke-width="0.15">##</text>
<line x1="458.05" y1="355.15" x2="458.05" y2="471.90" stroke="#000" stroke-width="1.7" />
<line x1="457.20" y1="471.15" x2="631.85" y2="471.15" stroke="#000" stroke-width="1.5" />
<line x1="454.55" y1="471.15" x2="458.05" y2="471.15" stroke="#000" stroke-width="1.3" />
<text transform="translate(453.35,474.25) scale(0.98,1)" font-family="'Liberation Sans', sans-serif" font-size="8.7" font-weight="bold" text-anchor="end" stroke="#000" stroke-width="0.2">0</text>
<line x1="454.55" y1="448.10" x2="458.05" y2="448.10" stroke="#000" stroke-width="1.3" />
<text transform="translate(453.35,451.20) scale(0.98,1)" font-family="'Liberation Sans', sans-serif" font-size="8.7" font-weight="bold" text-anchor="end" stroke="#000" stroke-width="0.2">5</text>
<line x1="454.55" y1="425.05" x2="458.05" y2="425.05" stroke="#000" stroke-width="1.3" />
<text transform="translate(453.35,428.15) scale(0.98,1)" font-family="'Liberation Sans', sans-serif" font-size="8.7" font-weight="bold" text-anchor="end" stroke="#000" stroke-width="0.2">10</text>
<line x1="454.55" y1="402.00" x2="458.05" y2="402.00" stroke="#000" stroke-width="1.3" />
<text transform="translate(453.35,405.10) scale(0.98,1)" font-family="'Liberation Sans', sans-serif" font-size="8.7" font-weight="bold" text-anchor="end" stroke="#000" stroke-width="0.2">15</text>
<line x1="454.55" y1="378.95" x2="458.05" y2="378.95" stroke="#000" stroke-width="1.3" />
<text transform="translate(453.35,382.05) scale(0.98,1)" font-family="'Liberation Sans', sans-serif" font-size="8.7" font-weight="bold" text-anchor="end" stroke="#000" stroke-width="0.2">20</text>
<line x1="454.55" y1="355.90" x2="458.05" y2="355.90" stroke="#000" stroke-width="1.3" />
<text transform="translate(453.35,359.00) scale(0.98,1)" font-family="'Liberation Sans', sans-serif" font-size="8.7" font-weight="bold" text-anchor="end" stroke="#000" stroke-width="0.2">25</text>
<text transform="translate(435.55,401.5) rotate(-90)" font-family="'Liberation Serif', serif" font-size="9.7" font-weight="bold" text-anchor="middle">IL-13 (pg/mL)</text>
<line x1="479.70" y1="464.56" x2="479.70" y2="466.31" stroke="#000" stroke-width="1.25" />
<line x1="472.50" y1="464.56" x2="486.90" y2="464.56" stroke="#000" stroke-width="1.25" />
<rect x="465.80" y="466.91" width="27.8" height="4.24" fill="#000" stroke="#000" stroke-width="1.2"/>
<line x1="523.00" y1="375.72" x2="523.00" y2="385.40" stroke="#000" stroke-width="1.25" />
<line x1="515.80" y1="375.72" x2="530.20" y2="375.72" stroke="#000" stroke-width="1.25" />
<defs><pattern id="ck458" x="509.10" y="386.00" width="4.5" height="4.5" patternUnits="userSpaceOnUse"><rect width="4.5" height="4.5" fill="#fff"/><rect width="2.25" height="2.25" fill="#000"/><rect x="2.25" y="2.25" width="2.25" height="2.25" fill="#000"/></pattern></defs>
<rect x="509.10" y="386.00" width="27.8" height="85.15" fill="url(#ck458)" stroke="#000" stroke-width="1.2"/>
<line x1="566.30" y1="374.80" x2="566.30" y2="382.18" stroke="#000" stroke-width="1.25" />
<line x1="559.10" y1="374.80" x2="573.50" y2="374.80" stroke="#000" stroke-width="1.25" />
<defs><pattern id="cf458" x="552.40" y="382.78" width="2.32" height="2.32" patternUnits="userSpaceOnUse"><rect width="2.32" height="2.32" fill="#f0f0f0"/><rect width="1.16" height="1.16" fill="#1c1c1c"/><rect x="1.16" y="1.16" width="1.16" height="1.16" fill="#1c1c1c"/></pattern></defs>
<rect x="552.40" y="382.78" width="27.8" height="88.37" fill="url(#cf458)" stroke="#000" stroke-width="1.2"/>
<line x1="609.60" y1="431.96" x2="609.60" y2="441.42" stroke="#000" stroke-width="1.25" />
<line x1="602.40" y1="431.96" x2="616.80" y2="431.96" stroke="#000" stroke-width="1.25" />
<rect x="595.70" y="442.02" width="27.8" height="29.13" fill="#000" stroke="#000" stroke-width="1.2"/>
<line x1="596.30" y1="445.17" x2="622.90" y2="445.17" stroke="#000" stroke-width="1.0" stroke-opacity="0.9" style="stroke:#eaeaea"/>
<line x1="596.30" y1="448.63" x2="622.90" y2="448.63" stroke="#000" stroke-width="1.0" stroke-opacity="0.9" style="stroke:#eaeaea"/>
<line x1="596.30" y1="452.09" x2="622.90" y2="452.09" stroke="#000" stroke-width="1.0" stroke-opacity="0.9" style="stroke:#eaeaea"/>
<line x1="596.30" y1="455.55" x2="622.90" y2="455.55" stroke="#000" stroke-width="1.0" stroke-opacity="0.9" style="stroke:#eaeaea"/>
<line x1="596.30" y1="459.01" x2="622.90" y2="459.01" stroke="#000" stroke-width="1.0" stroke-opacity="0.9" style="stroke:#eaeaea"/>
<line x1="596.30" y1="462.47" x2="622.90" y2="462.47" stroke="#000" stroke-width="1.0" stroke-opacity="0.9" style="stroke:#eaeaea"/>
<line x1="596.30" y1="465.93" x2="622.90" y2="465.93" stroke="#000" stroke-width="1.0" stroke-opacity="0.9" style="stroke:#eaeaea"/>
<line x1="596.30" y1="469.39" x2="622.90" y2="469.39" stroke="#000" stroke-width="1.0" stroke-opacity="0.9" style="stroke:#eaeaea"/>
<line x1="486.75" y1="351.65" x2="523.65" y2="351.65" stroke="#000" stroke-width="1.15" />
<text x="505.05" y="350.36" font-family="'Liberation Sans', sans-serif" font-size="9.0" font-weight="bold" text-anchor="middle" >**</text>
<line x1="525.45" y1="335.75" x2="608.95" y2="335.75" stroke="#000" stroke-width="1.15" />
<text x="567.15" y="332.51" font-family="'Liberation Sans', sans-serif" font-size="5.2" font-weight="bold" text-anchor="middle" font-style="italic" stroke="#000" stroke-width="0.15">##</text>
<rect x="643.6" y="361.45" width="11.9" height="4.6" fill="#000" stroke="#000" stroke-width="1.3"/>
<text x="662.60" y="367.05" font-family="'Liberation Serif', serif" font-size="9.58" font-weight="normal" text-anchor="start" >NC (n=5)</text>
<defs><pattern id="lck" x="643.60" y="377.00" width="4.5" height="4.5" patternUnits="userSpaceOnUse"><rect width="4.5" height="4.5" fill="#fff"/><rect width="2.25" height="2.25" fill="#000"/><rect x="2.25" y="2.25" width="2.25" height="2.25" fill="#000"/></pattern></defs>
<rect x="643.6" y="377.00" width="11.9" height="4.6" fill="url(#lck)" stroke="#000" stroke-width="1.3"/>
<text x="662.60" y="382.60" font-family="'Liberation Serif', serif" font-size="9.58" font-weight="normal" text-anchor="start" >OVA (n=5)</text>
<defs><pattern id="lcf" x="643.60" y="392.40" width="2.32" height="2.32" patternUnits="userSpaceOnUse"><rect width="2.32" height="2.32" fill="#f0f0f0"/><rect width="1.16" height="1.16" fill="#1c1c1c"/><rect x="1.16" y="1.16" width="1.16" height="1.16" fill="#1c1c1c"/></pattern></defs>
<rect x="643.6" y="392.40" width="11.9" height="4.6" fill="url(#lcf)" stroke="#000" stroke-width="1.3"/>
<text x="662.60" y="398.00" font-family="'Liberation Serif', serif" font-size="9.58" font-weight="normal" text-anchor="start" >OVA + PBS (n=5)</text>
<rect x="643.6" y="408.30" width="11.9" height="4.6" fill="#000" stroke="#000" stroke-width="1.3"/>
<line x1="644.40" y1="411.60" x2="654.70" y2="411.60" stroke="#000" stroke-width="0.8" style="stroke:#b0b0b0"/>
<text x="662.60" y="413.90" font-family="'Liberation Serif', serif" font-size="9.58" font-weight="normal" text-anchor="start" >OVA + Tirofiban 5mg/kg (n=5)</text>
</svg>
</body>
</html>
